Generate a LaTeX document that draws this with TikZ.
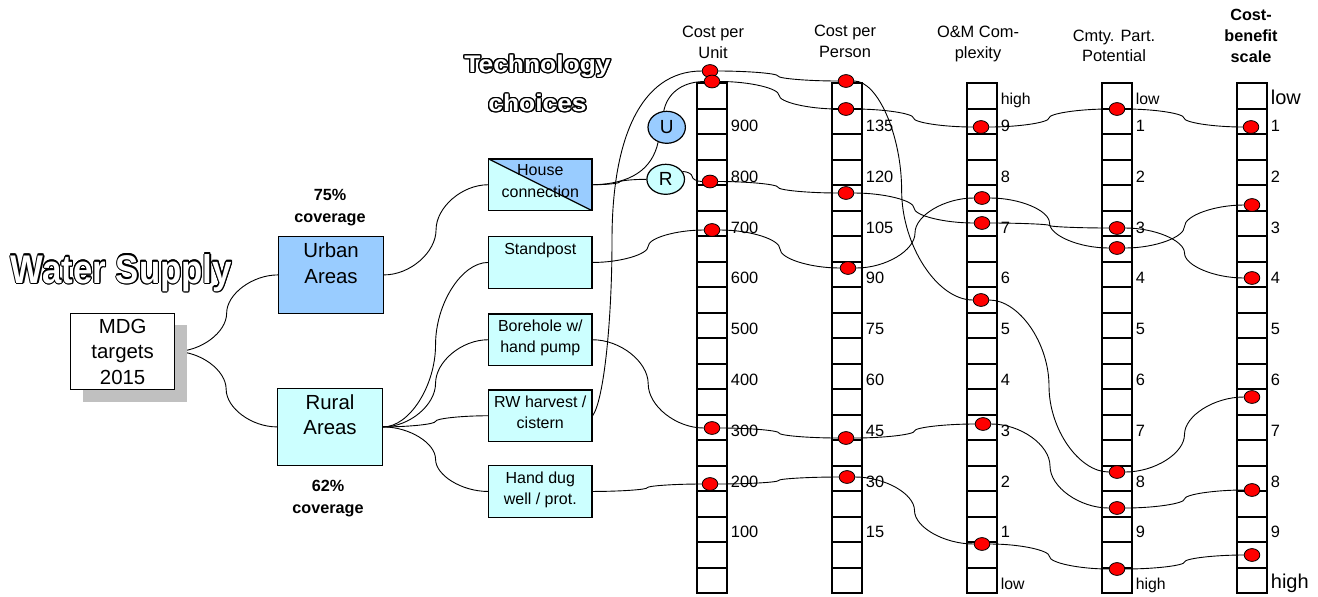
\documentclass[tikz,border=0pt]{standalone}
\usepackage{fontspec}
\setmainfont{Liberation Sans}
\usepackage{graphicx}
\usepackage{contour}
\contourlength{0.6pt}
\usetikzlibrary{calc,shapes.geometric,shadows}

\definecolor{urbanblue}{HTML}{99CCFF}
\definecolor{ruralcyan}{HTML}{CCFFFF}
\definecolor{shadowgray}{HTML}{C0C0C0}

\pgfdeclarelayer{grid}
\pgfdeclarelayer{links}
\pgfsetlayers{grid,links,main}

% curved connector with its kink at fraction #1 of the way
\newcommand\sconn[3][.5]{%
  \path ($(#2)!#1*.5!(#3)$) coordinate (c1)
        ($(#2)!#1!(#3)$) coordinate (cm)
        ($(#2)!.25!(#3)$) coordinate (q1)
        ($(#2)!.5!(#3)$) coordinate (hm)
        ($(#2)!.75!(#3)$) coordinate (q3)
        ($(#2)!.5+#1*.5!(#3)$) coordinate (c4);
  \draw[link] (#2) .. controls (c1 |- #2) and (cm |- q1) .. (cm |- hm)
    .. controls (cm |- q3) and (c4 |- #3) .. (#3);}

\begin{document}
\begin{tikzpicture}[x=0.5pt, y=-0.5pt,
  link/.style={line width=0.45pt},
  cell/.style={line width=0.95pt, fill=white},
  dot/.style={ellipse, draw, line width=0.4pt, fill=red, minimum width=7.8pt, minimum height=6.4pt, inner sep=0pt},
  box/.style={draw, line width=0.65pt, anchor=north west, inner sep=0pt},
  areabox/.style={box, minimum width=52.4pt, minimum height=38.25pt},
  techbox/.style={box, fill=ruralcyan, minimum width=51.65pt, minimum height=25.8pt},
  boxtext/.style={anchor=north, inner sep=0pt, align=center},
  bigtext/.style={boxtext, font=\fontsize{10.2}{12.7}\selectfont},
  techtext/.style={boxtext, font=\fontsize{8}{10.75}\selectfont},
  choice/.style={ellipse, draw, line width=0.6pt, inner sep=0pt, font=\fontsize{9.5}{11}\selectfont},
  head/.style={anchor=north, inner sep=0pt, align=center, font=\fontsize{8.2}{10.4}\selectfont},
  num/.style={anchor=base west, inner sep=0pt, font=\fontsize{8.2}{10}\selectfont},
  small/.style={num, font=\fontsize{7.9}{10}\selectfont},
  large/.style={num, font=\fontsize{10}{12}\selectfont},
  cover/.style={anchor=north, inner sep=0pt, align=center, font=\bfseries\fontsize{8.1}{10.8}\selectfont},
  wordart/.style={inner sep=0pt, text=white, align=center}
]
\useasboundingbox (0,0) rectangle (1318,596);

% titles
\node[wordart, anchor=base, font=\bfseries\fontsize{20}{22}\selectfont] (title) at (121.5,283)
  {\scalebox{0.87}[1]{\contour{black}{Water Supply}}};
\node[wordart, anchor=north, font=\bfseries\fontsize{12}{19.7}\selectfont] (techtitle) at (537.5,54.5)
  {\scalebox{1.1}[1]{\contour{black}{Technology}}\\\scalebox{1.1}[1]{\contour{black}{choices}}};

% targets and areas
\node[box, fill=white, minimum width=52pt, minimum height=38.15pt,
  drop shadow={shadow xshift=6pt, shadow yshift=-6pt, fill=shadowgray, opacity=1}] (mdg) at (70,312.7) {};
\node[bigtext] (mdg-t) at ([yshift=-3pt]mdg.north) {MDG\\targets\\2015};
\node[areabox, fill=urbanblue] (urban) at (278,236) {};
\node[bigtext] (urban-t) at ([yshift=-3.3pt]urban.north) {Urban\\Areas};
\node[areabox, fill=ruralcyan] (rural) at (277,388) {};
\node[bigtext] (rural-t) at ([yshift=-3.2pt]rural.north) {Rural\\Areas};
\node[cover] (urban-c) at (330,189) {75\%\\coverage};
\node[cover] (rural-c) at (328,480) {62\%\\coverage};

% technology boxes
\node[techbox, path picture={
    \fill[urbanblue] (path picture bounding box.north west) -- (path picture bounding box.north east)
      -- (path picture bounding box.south east) -- cycle;
    \draw[line width=0.6pt] (path picture bounding box.north west) -- (path picture bounding box.south east);}]
  (hc) at (488,158.3) {};
\node[techtext] (hc-t) at ([yshift=-2.9pt]hc.north) {House\\connection};
\node[techbox] (sp) at (488,236) {};
\node[techtext] (sp-t) at ([yshift=-3pt]sp.north) {Standpost};
\node[techbox] (bh) at (488,313.3) {};
\node[techtext] (bh-t) at ([yshift=-3pt]bh.north) {Borehole w/\\hand pump};
\node[techbox] (rw) at (488,389.3) {};
\node[techtext] (rw-t) at ([yshift=-3pt]rw.north) {RW harvest /\\cistern};
\node[techbox] (hd) at (488,465) {};
\node[techtext] (hd-t) at ([yshift=-3pt]hd.north) {Hand dug\\well / prot.};

\node[choice, fill=urbanblue, minimum width=18.7pt, minimum height=16pt] (U) at (666.7,127.3) {U};
\node[choice, fill=ruralcyan, minimum width=18.8pt, minimum height=15pt] (R) at (665.7,179.3) {R};

% scale columns
\begin{pgfonlayer}{grid}
\foreach \cx in {712,847,982,1117,1252}
  {\foreach \i in {0,...,19}
    {\draw[cell] ({\cx-15.25},{83.3+\i*25.5}) rectangle ++(30.5,25.5);}}
\foreach \v [count=\k] in {900,800,...,100}
  \node[num] (unit-\k) at (730.5,{131.5+(\k-1)*50.8}) {\v};
\foreach \v [count=\k] in {135,120,...,15}
  \node[num] (person-\k) at (865.5,{131.5+(\k-1)*50.8}) {\v};
\foreach \v [count=\k] in {9,8,...,1}
  \node[num] (om-\k) at (1000.5,{131.5+(\k-1)*50.8}) {\v};
\foreach \v [count=\k] in {1,...,9}
  \node[num] (cmty-\k) at (1135.5,{131.5+(\k-1)*50.8}) {\v};
\foreach \v [count=\k] in {1,...,9}
  \node[num] (cb-\k) at (1270.5,{131.5+(\k-1)*50.8}) {\v};
\node[small] (om-top) at (1000.5,104.5) {high};
\node[small] (om-bot) at (1000.5,589) {low};
\node[small] (cmty-top) at (1135.5,104.5) {low};
\node[small] (cmty-bot) at (1135.5,589) {high};
\node[large] (cb-top) at (1270.5,104) {low};
\node[large] (cb-bot) at (1270.5,588) {high};
\end{pgfonlayer}

\node[head] (h-unit) at (713,26) {Cost per\\Unit};
\node[head] (h-person) at (845,25) {Cost per\\Person};
\node[head] (h-om) at (978,26) {O\&M Com-\\plexity};
\node[head] (h-cmty) at (1114,29.3) {Cmty. Part.\\Potential};
\node[head, font=\bfseries\fontsize{8.1}{10.6}\selectfont] (h-cb) at (1251,8.3) {Cost-\\benefit\\scale};

% ratings of each technology
\foreach \n/\x/\y in {w1/710/71, u1/712/81.5, u2/846/109, u3/981/127, u4/1117/109, u5/1251/127,
    w2/846/81, w3/981/300, w4/1117/472, w5/1252/397,
    r1/710/181.5, r2/846/193, r3/982/223, r4/1117/228, r5/1252/278,
    s1/712/230, s2/848/268, s3/982/198, s4/1117/248, s5/1252/205,
    b1/712/428, b2/846/438, b3/983/424, b4/1117/508, b5/1252/490,
    h1/710/484, h2/847/477, h3/982/544, h4/1117/569, h5/1252/555}
  \node[dot] (\n) at (\x,\y) {};

% connectors
\begin{pgfonlayer}{links}
\sconn{mdg.east}{urban.west}
\sconn{mdg.east}{rural.west}
\sconn{urban.east}{hc.west}
\foreach \b in {sp,bh,rw,hd} {\sconn{rural.east}{\b.west}}
\sconn{hc.east}{R.west}
\sconn{R.25}{r1.west}
\sconn{sp.east}{s1.west}
\sconn{bh.east}{b1.west}
\sconn{hd.east}{h1.west}
\draw[link] (hc.east) .. controls (630,184) and (652,170) .. (U.240);
\draw[link] (U.100) .. controls (667,95) and (680,82) .. (u1.west);
\draw[link] (rw.east) .. controls (604,400) and (612,320) .. (612,240)
  .. controls (612,140) and (640,71) .. (w1.west);
\foreach \t in {u,r,s,b,h}
  {\foreach \i [evaluate=\i as \j using int(\i+1)] in {1,...,4}
    {\sconn{\t\i.east}{\t\j.west}}}
\sconn{w1.east}{w2.west}
\sconn[.4]{w2.east}{w3.west}
\sconn{w3.east}{w4.west}
\sconn{w4.east}{w5.west}
\end{pgfonlayer}

\end{tikzpicture}
\end{document}
